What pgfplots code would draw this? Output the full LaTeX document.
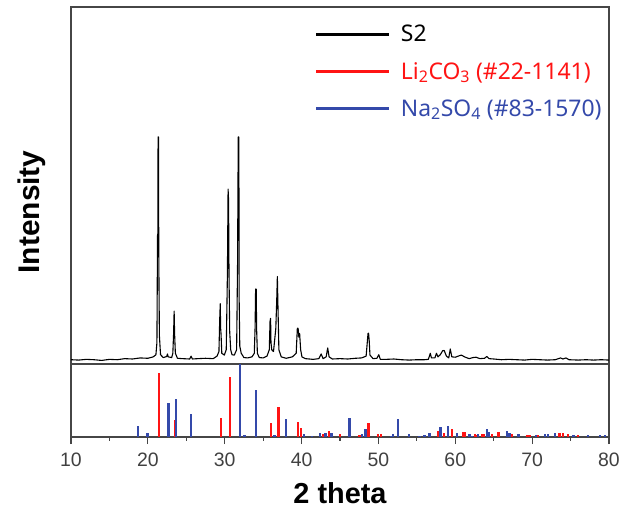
\documentclass[border=0pt]{standalone}
\usepackage{fontspec}
\setmainfont{Liberation Sans}
\newfontfamily\legfont{Noto Sans}
\usepackage{pgfplots}
\pgfplotsset{compat=1.18}
\definecolor{xrdred}{RGB}{255,20,20}
\definecolor{xrdblue}{RGB}{52,73,170}
\definecolor{framegray}{RGB}{70,70,70}

\begin{document}
\begin{tikzpicture}
% page = 627 x 510 px, 1px = 1bp
\path (-71bp,-146bp) rectangle (556bp,364bp);

% measured pattern S2
\begin{axis}[
  name=top, at={(0,0)}, anchor=south west,
  scale only axis, width=538bp, height=357bp,
  xmin=10, xmax=80, ymin=0, ymax=100,
  xtick=\empty, ytick=\empty,
  axis line style={framegray, line width=1.2bp},
  ylabel={\bfseries Intensity},
  ylabel style={at={(axis description cs:-0.0725,0.426)}, anchor=center, font=\fontsize{30}{30}\selectfont},
  legend style={at={(rel axis cs:0.4535,0.952)}, anchor=north west, draw=none, fill=none,
    inner sep=0pt, outer sep=0pt, row sep=17bp, font=\legfont\fontsize{23}{23}\selectfont,
    nodes={inner sep=1bp}},
  legend cell align=left,
  legend image code/.code={\draw[#1, line width=2.8bp] (0bp,0bp) -- (73bp,0bp); \path (83bp,0bp);},
]
\addplot[black, line width=1.1bp, line join=round] coordinates {
(10,1.2)(11,1.1)(12,1.3)(13,1.2)(14,1.0)(15,1.3)(16,1.2)(17,1.5)(18,1.4)(19,1.7)(20,1.6)
(20.7,2.0)(21.05,2.6)(21.18,6)(21.26,36)(21.3,36.5)(21.33,63.6)(21.38,63.6)(21.42,31)(21.5,8)(21.65,2.6)
(22.0,1.8)(22.45,2.1)(22.55,2.8)(22.65,2.0)(23.1,1.8)(23.25,3)(23.35,8.5)(23.42,14.8)(23.48,8.5)(23.58,3)
(23.85,1.6)(24.5,1.5)(25.45,1.4)(25.62,2.2)(25.8,1.4)(26.5,1.5)(27.5,1.6)(28.5,1.5)(29.0,2.2)
(29.25,3.5)(29.35,12.5)(29.42,16.9)(29.47,10)(29.52,8.5)(29.62,3)(29.95,2.5)
(30.2,4)(30.35,25)(30.44,49)(30.5,46)(30.56,25)(30.65,9)(30.78,4)(30.95,2.6)(31.25,2.5)
(31.55,4)(31.67,27.6)(31.76,63.6)(31.84,63.6)(31.88,18)(31.96,5)(32.15,3)(32.5,1.8)(33.0,1.7)
(33.55,2)(33.85,3)(33.95,10)(34.02,21)(34.1,21)(34.15,10)(34.25,3)(34.5,1.8)(35.0,1.7)
(35.5,2.2)(35.8,4)(35.9,12)(35.97,12.8)(36.02,6)(36.12,4)(36.35,3.5)(36.65,10)(36.77,18)(36.85,24.5)
(36.93,16)(37.05,4)(37.35,2)(38.0,1.6)(38.8,2)(39.3,3)(39.45,10)(39.55,10)(39.65,7.5)(39.75,8.5)
(39.88,4)(40.05,2)(40.5,1.5)(41.5,1.3)(42.25,1.5)(42.55,2.8)(42.8,1.5)(43.2,2)(43.4,4.5)(43.58,2)
(44.0,1.4)(45.0,1.5)(46.0,1.4)(47.0,1.6)(47.8,1.7)(48.4,2.2)(48.65,8.6)(48.72,8.6)(48.8,6.5)(48.9,2.5)
(49.3,1.5)(49.8,1.6)(50.05,2.6)(50.25,1.3)(51.0,1.3)(52.0,1.4)(53.0,1.2)(54.0,1.1)(55.0,1.2)
(56.0,1.2)(56.5,1.3)(56.75,3)(56.9,1.7)(57.35,1.7)(57.55,3)(57.75,2)(58.05,2.6)(58.35,3.7)(58.55,3.8)
(58.85,2.2)(59.15,1.7)(59.35,4.2)(59.55,2.0)(60.0,1.9)(60.5,2.3)(60.8,2.5)(61.2,2.0)(61.8,1.5)
(62.3,1.8)(62.7,1.9)(63.2,1.5)(63.8,1.6)(64.1,2.1)(64.4,1.5)(65.0,1.4)(66,1.2)(67,1.3)(68,1.2)
(69,1.1)(70,1.3)(71,1.2)(72,1.1)(73,1.2)(73.7,1.7)(74,1.4)(74.4,1.7)(74.8,1.2)(76,1.1)(77,1.2)
(78,1.1)(79,1.2)(80,1.1)
};
\addlegendentry{S2}
\addlegendimage{xrdred}
\addlegendentry{\textcolor{xrdred}{Li\textsubscript{2}CO\textsubscript{3} (\#22-1141)}}
\addlegendimage{xrdblue}
\addlegendentry{\textcolor{xrdblue}{Na\textsubscript{2}SO\textsubscript{4} (\#83-1570)}}
\end{axis}

% reference patterns
\begin{axis}[
  name=bot, at={(0,0)}, anchor=north west,
  scale only axis, width=538bp, height=73bp,
  xmin=10, xmax=80, ymin=0, ymax=100,
  ytick=\empty,
  xtick={10,20,...,80}, minor xtick={15,25,...,75},
  xtick pos=bottom, tick align=outside,
  major tick length=7bp, minor tick length=3.5bp,
  tick style={framegray, line width=1.2bp},
  axis line style={framegray, line width=1.2bp},
  /pgf/number format/assume math mode=true,
  xticklabel style={font=\fontsize{19.5}{19.5}\selectfont, text=black!75, yshift=-5bp},
  xlabel={\bfseries 2 theta},
  xlabel style={at={(axis description cs:0.5,-0.767)}, anchor=center, font=\fontsize{29}{29}\selectfont},
]
\addplot[ycomb, xrdred, line width=2.4bp] coordinates {
(21.42,87.6)(23.5,23)(29.48,25.5)(30.65,82)(36.03,19.8)(37.0,41)(39.54,20.8)(39.93,11.8)
(42.8,4.7)(43.53,8)(45.0,3.7)(47.56,2.3)(48.73,18.6)(49.94,3.7)(50.3,4.7)(57.75,8.4)(58.5,5)
(59.6,11.6)(61.0,7)(61.3,7)(62.6,3.5)(62.9,3)(63.44,4.6)(63.66,4.6)(64.74,4.6)(65.6,7)
(67.34,3.5)(69.3,3.3)(69.65,3.3)(70.8,2.4)(73.54,5.6)(73.98,5.6)(74.7,4.6)(76.0,2.5)
};
\addplot[ycomb, xrdblue, line width=2.4bp] coordinates {
(18.71,14.7)(19.93,5.5)(22.67,47)(23.65,51.6)(25.63,32)(31.95,100)(32.6,2.4)(34.1,64.8)
(36.5,2.4)(37.94,24.5)(40.32,4.7)(41.36,1.9)(42.36,5.7)(43.1,5.7)(43.88,5.7)(46.26,25.6)
(47.9,3.7)(48.3,11.6)(51.6,1.4)(51.9,3.7)(52.55,24.2)(53.94,3.7)(55.37,1.8)(56.0,2.2)
(56.67,6)(58.1,14)(59.05,15.3)(60.22,6)(61.86,3.7)(62.14,1.4)(62.95,3.7)(64.09,11.6)(64.4,7)
(66.7,8.4)(67.04,5.6)(68.2,4.6)(70.5,2.4)(71.67,3.7)(72.1,3.7)(72.98,5.6)(75.36,2.4)
(77.3,3.3)(78.8,2.4)(79.48,2.4)
};
\end{axis}
\end{tikzpicture}
\end{document}
